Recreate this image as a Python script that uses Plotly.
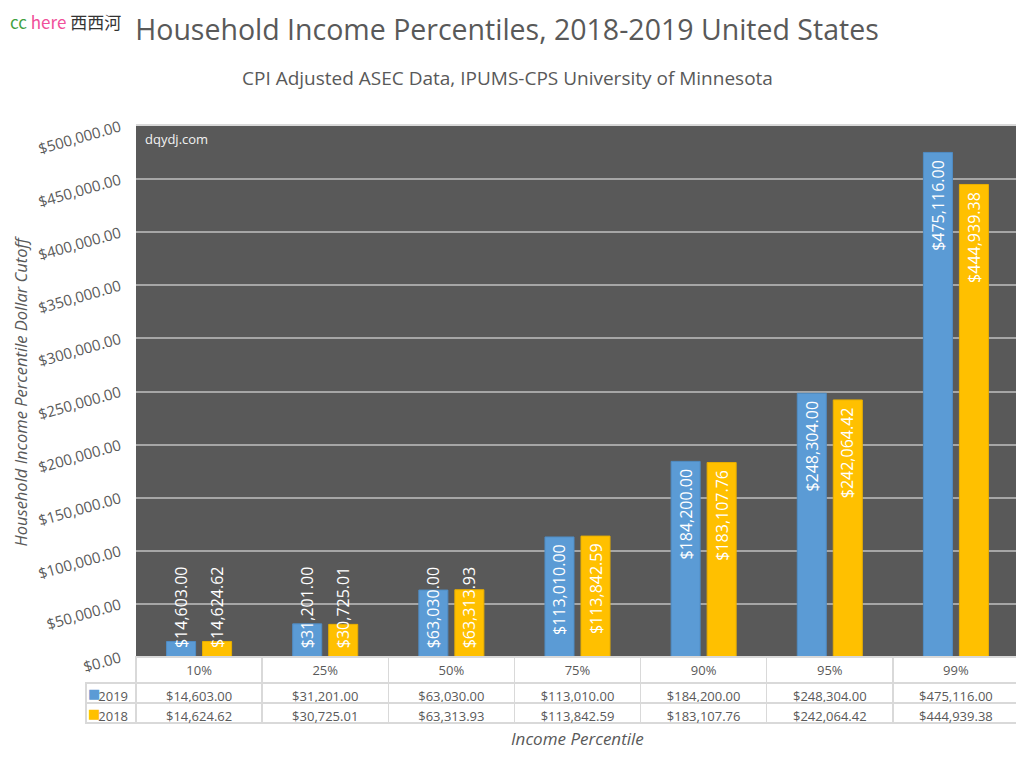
import plotly.graph_objects as go

# ---------------- data ----------------
percentiles = ["10%", "25%", "50%", "75%", "90%", "95%", "99%"]
income_2019 = [14603.00, 31201.00, 63030.00, 113010.00, 184200.00, 248304.00, 475116.00]
income_2018 = [14624.62, 30725.01, 63313.93, 113842.59, 183107.76, 242064.42, 444939.38]
series_names = ["2019", "2018"]
y_max = 500000
y_step = 50000

# ---------------- style ----------------
FONT = "Open Sans"
GRAY = "#595959"
BLUE = "#5B9BD5"
GOLD = "#FFC000"
colors = [BLUE, GOLD]
edge_colors = ["#4F8CC4", "#E8AF00"]
series = [income_2019, income_2018]
label_fit_value = 100000   # labels fit inside bars taller than this
label_shift = [-18, 18]

OFF = 8                     # page body margin
W, H = 1024 - OFF, 762 - OFF
ML, MR, MT, MB = 86 - OFF, 5, 126 - OFF, 32
PW = W - ML - MR
PH = H - MT - MB
LEG_COL = 50
TABLE_H = 73
HEAD_H = 26
ROW_H = 20
x_dom0 = LEG_COL / PW
y_dom0 = TABLE_H / PH


def money(v):
    return f"${v:,.2f}"


fig = go.Figure()

for name, vals, col, ecol in zip(series_names, series, colors, edge_colors):
    fig.add_trace(go.Bar(
        x=percentiles, y=vals, name=name,
        marker=dict(color=col, line=dict(color=ecol, width=1)),
        showlegend=False, hoverinfo="skip",
    ))

# data labels
annotations = []
for vals, dx in zip(series, label_shift):
    for cat, v in zip(percentiles, vals):
        if v > label_fit_value:
            annotations.append(dict(
                x=cat, y=v, xref="x", yref="y", xshift=dx, yshift=-5,
                text=money(v), textangle=-90, showarrow=False,
                xanchor="center", yanchor="top",
                font=dict(family=FONT, size=16, color="white")))
        else:
            annotations.append(dict(
                x=cat, y=0, xref="x", yref="y", xshift=dx, yshift=7,
                text=money(v), textangle=-90, showarrow=False,
                xanchor="center", yanchor="bottom",
                font=dict(family=FONT, size=16, color="white")))

# data table below the plot
cell_values = [series_names] + \
    [[money(a), money(b)] for a, b in zip(income_2019, income_2018)]
fig.add_trace(go.Table(
    domain=dict(x=[0, 1], y=[0, y_dom0]),
    columnwidth=[LEG_COL] + [(PW - LEG_COL) / len(percentiles)] * len(percentiles),
    header=dict(
        values=[""] + percentiles,
        height=HEAD_H,
        fill=dict(color=["rgba(0,0,0,0)"] + ["white"] * len(percentiles)),
        line=dict(color=["rgba(0,0,0,0)"] + ["#D9D9D9"] * len(percentiles), width=1.5),
        font=dict(family=FONT, size=13, color=GRAY),
        align="center",
    ),
    cells=dict(
        values=cell_values,
        height=ROW_H,
        fill=dict(color="white"),
        line=dict(color="#D9D9D9", width=1.5),
        font=dict(family=FONT, size=13, color=GRAY),
        align=["right"] + ["center"] * len(percentiles),
    ),
))

# legend keys in the table's first column
for i, c in enumerate(colors):
    yc = TABLE_H - HEAD_H - ROW_H * (i + 0.5)
    annotations.append(dict(
        text="■", xref="paper", yref="paper", x=8 / PW, y=yc / PH,
        xanchor="center", yanchor="middle", showarrow=False,
        font=dict(family="DejaVu Sans", size=13, color=c)))

# texts
annotations += [
    dict(text="CPI Adjusted ASEC Data, IPUMS-CPS University of Minnesota",
         xref="paper", yref="paper", x=(507 - 86) / PW, y=1 + (126 - 78) / PH,
         xanchor="center", yanchor="middle", showarrow=False,
         font=dict(family=FONT, size=19, color=GRAY)),
    dict(text="dqydj.com", xref="x domain", yref="y domain", x=0.008, y=0.975,
         xanchor="left", yanchor="middle", showarrow=False,
         font=dict(family=FONT, size=13, color="#F2F2F2")),
    dict(text="Household Income Percentile Dollar Cutoff", textangle=-90,
         xref="paper", yref="paper", x=(20 - 86) / PW, y=y_dom0 + (1 - y_dom0) / 2,
         xanchor="center", yanchor="middle", showarrow=False,
         font=dict(family=FONT, size=16.5, color=GRAY, style="italic")),
    dict(text="Income Percentile",
         xref="paper", yref="paper", x=x_dom0 + (1 - x_dom0) / 2, y=-(738 - 730) / PH,
         xanchor="center", yanchor="middle", showarrow=False,
         font=dict(family=FONT, size=17, color=GRAY, style="italic")),
    dict(text="<span style='color:#3FA23F'>cc</span> <span style='color:#F0509A'>here</span> "
              "<span style='color:#333333'>西西河</span>",
         xref="paper", yref="paper", x=-ML / PW, y=1 + (MT + 1) / PH,
         xanchor="left", yanchor="top", showarrow=False,
         font=dict(family="Noto Sans CJK SC", size=17)),
]

fig.update_layout(
    width=W, height=H,
    margin=dict(l=ML, r=MR, t=MT, b=MB, pad=0, autoexpand=False),
    paper_bgcolor="white",
    plot_bgcolor=GRAY,
    barmode="group",
    bargap=0.429,
    bargroupgap=0.194,
    title=dict(text="Household Income Percentiles, 2018-2019 United States",
               xref="container", yref="container", x=(507 - OFF) / W, y=1 - 22 / H,
               xanchor="center", yanchor="middle",
               font=dict(family=FONT, size=28.5, color=GRAY)),
    xaxis=dict(domain=[x_dom0, 1], showticklabels=False, ticks="",
               showgrid=False, zeroline=False, automargin=False,
               showline=True, mirror=True, linecolor="#D9D9D9", linewidth=2),
    yaxis=dict(domain=[y_dom0, 1], range=[0, y_max], dtick=y_step, tick0=0,
               tickformat="$,.2f", tickangle=-16, automargin=False,
               tickfont=dict(family=FONT, size=15, color=GRAY),
               showgrid=True, gridcolor="#A6A6A6", gridwidth=1.5,
               zeroline=False, showline=False, ticks="", ticklabelstandoff=15),
    annotations=annotations,
    font=dict(family=FONT, color=GRAY),
)

fig.write_html("out.html")
